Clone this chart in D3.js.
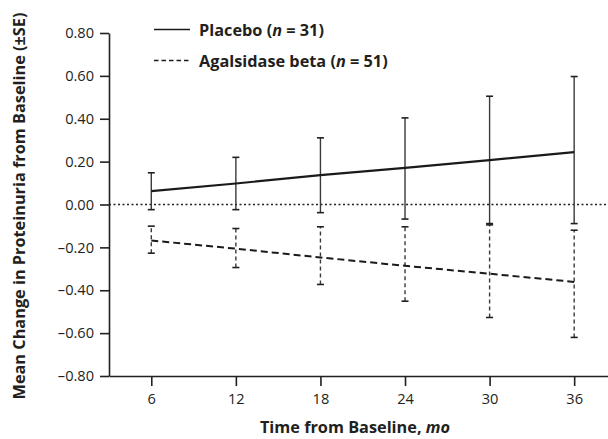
<!DOCTYPE html>
<html>
<head>
<meta charset="utf-8">
<script src="https://cdn.jsdelivr.net/npm/d3@7"></script>
<style>
    body { margin: 0; background: #fff; }
    svg { display: block; font-family: "Open Sans", "Noto Sans", sans-serif; }
    .axis .tick text { font-size: 14.6px; fill: #231f20; font-family: "Open Sans", "Noto Sans", sans-serif; }
    .axis path, .axis line { stroke: #231f20; stroke-width: 1.6; }
    .title { font-size: 16.3px; font-weight: 700; fill: #231f20; }
    .legend-label { font-size: 16.3px; font-weight: 700; fill: #231f20; }
</style>
</head>
<body>
<div id="chart"></div>
<script>
// months of follow-up
const months = [6, 12, 18, 24, 30, 36];

// mean change in proteinuria and ±SE limits
const placeboMean = [0.062, 0.098, 0.137, 0.171, 0.207, 0.244];
const placeboHigh = [0.148, 0.220, 0.311, 0.404, 0.505, 0.597];
const placeboLow = [-0.024, -0.024, -0.038, -0.068, -0.089, -0.089];

const agalMean = [-0.168, -0.206, -0.247, -0.286, -0.323, -0.361];
const agalHigh = [-0.101, -0.112, -0.104, -0.104, -0.095, -0.120];
const agalLow = [-0.227, -0.294, -0.373, -0.451, -0.527, -0.620];

const yTicks = [-0.8, -0.6, -0.4, -0.2, 0, 0.2, 0.4, 0.6, 0.8];

const series = [
    { name: "Placebo", n: 31, mean: placeboMean, low: placeboLow, high: placeboHigh, dash: null, barDash: null, width: 2.2 },
    { name: "Agalsidase beta", n: 51, mean: agalMean, low: agalLow, high: agalHigh, dash: "7,4", barDash: "4,3", width: 2 },
];

const width = 608, height = 439;
const margin = { top: 33, right: 0, bottom: 63, left: 109 };

const svg = d3.select("#chart").append("svg")
    .attr("width", width)
    .attr("height", height);

const x = d3.scaleLinear().domain([3, 38.4]).range([margin.left, width - margin.right]);
const y = d3.scaleLinear().domain([-0.8, 0.8]).range([height - margin.bottom, margin.top]);

const fmt = d3.format(".2f");

// zero reference line
svg.append("line")
    .attr("x1", x.range()[0]).attr("x2", x.range()[1])
    .attr("y1", y(0)).attr("y2", y(0))
    .attr("stroke", "#231f20")
    .attr("stroke-width", 1.5)
    .attr("stroke-dasharray", "2,2.5");

// axes
svg.append("g")
    .attr("class", "axis x-axis")
    .attr("transform", `translate(0,${y.range()[0]})`)
    .call(d3.axisBottom(x).tickValues(months).tickSize(10).tickSizeOuter(0).tickPadding(7.5));

svg.append("g")
    .attr("class", "axis y-axis")
    .attr("transform", `translate(${margin.left},0)`)
    .call(d3.axisLeft(y).tickValues(yTicks).tickSize(9).tickSizeOuter(0).tickPadding(6)
        .tickFormat(d => (d < 0 ? "\u2013" : "") + fmt(Math.abs(d))));

svg.selectAll(".axis").attr("font-size", null).attr("font-family", null);

// error bars and mean lines
const line = d3.line()
    .x((d, i) => x(months[i]))
    .y(d => y(d));

const capW = 3.5;
series.forEach(s => {
    const g = svg.append("g").attr("class", "series");
    months.forEach((m, i) => {
        g.append("line")
            .attr("x1", x(m)).attr("x2", x(m))
            .attr("y1", y(s.low[i])).attr("y2", y(s.high[i]))
            .attr("stroke", "#3a3a3a").attr("stroke-width", 1.4)
            .attr("stroke-dasharray", s.barDash);
        [s.low[i], s.high[i]].forEach(v => {
            g.append("line")
                .attr("x1", x(m) - capW).attr("x2", x(m) + capW)
                .attr("y1", y(v)).attr("y2", y(v))
                .attr("stroke", "#231f20").attr("stroke-width", 1.6);
        });
    });
    g.append("path")
        .datum(s.mean)
        .attr("d", line)
        .attr("fill", "none")
        .attr("stroke", "#1a1a1a")
        .attr("stroke-width", s.width)
        .attr("stroke-dasharray", s.dash);
});

// legend
const legend = svg.append("g").attr("class", "legend");
series.forEach((s, i) => {
    const ly = 29.5 + i * 31;
    legend.append("line")
        .attr("x1", 154).attr("x2", 190)
        .attr("y1", ly).attr("y2", ly)
        .attr("stroke", "#1a1a1a").attr("stroke-width", 1.6)
        .attr("stroke-dasharray", s.dash ? "4.5,3" : null);
    const t = legend.append("text")
        .attr("class", "legend-label")
        .attr("x", 199).attr("y", ly + 6);
    t.append("tspan").text(`${s.name} (`);
    t.append("tspan").attr("font-style", "italic").text("n");
    t.append("tspan").text(` = ${s.n})`);
});

// axis titles
const xt = svg.append("text")
    .attr("class", "title")
    .attr("x", 355).attr("y", 433)
    .attr("text-anchor", "middle");
xt.append("tspan").text("Time from Baseline, ");
xt.append("tspan").attr("font-style", "italic").text("mo");

svg.append("text")
    .attr("class", "title")
    .attr("transform", "translate(25,206) rotate(-90)")
    .attr("text-anchor", "middle")
    .text("Mean Change in Proteinuria from Baseline (\u00b1SE)");
</script>
</body>
</html>
